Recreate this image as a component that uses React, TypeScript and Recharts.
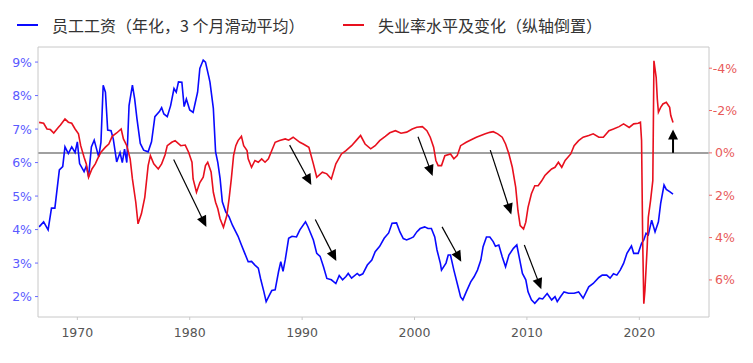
import { LineChart, Line, XAxis, YAxis, ReferenceLine } from 'recharts'

// [year, %]
const wage: [number, number][] = [
  [1966.6, 4.08], [1967.0, 4.23], [1967.4, 3.99], [1967.7, 4.64], [1968.0, 4.64], [1968.4, 5.78],
  [1968.7, 5.88], [1968.9, 6.47], [1969.2, 6.27], [1969.5, 6.47], [1969.8, 6.3], [1970.0, 6.62],
  [1970.2, 5.97], [1970.6, 5.73], [1970.8, 5.9], [1971.0, 5.58], [1971.25, 6.47], [1971.5, 6.67],
  [1971.9, 6.17], [1972.1, 6.6], [1972.3, 8.31], [1972.5, 8.1], [1972.7, 6.97], [1973.0, 6.95],
  [1973.2, 6.7], [1973.5, 6.02], [1973.8, 6.3], [1974.0, 6.0], [1974.2, 6.4], [1974.4, 6.0],
  [1974.6, 7.7], [1974.9, 8.31], [1975.1, 7.9], [1975.3, 7.32], [1975.6, 6.57], [1975.9, 6.37],
  [1976.3, 6.32], [1976.6, 6.62], [1976.9, 7.37], [1977.3, 7.52], [1977.5, 7.64], [1977.7, 7.45],
  [1978.0, 7.37], [1978.3, 7.7], [1978.6, 8.21], [1978.8, 8.1], [1979.0, 8.41], [1979.3, 8.4],
  [1979.5, 7.67], [1979.7, 7.9], [1980.0, 7.57], [1980.3, 7.5], [1980.5, 7.8], [1980.7, 8.1],
  [1980.9, 8.81], [1981.2, 9.06], [1981.4, 9.0], [1981.7, 8.56], [1981.8, 8.4], [1982.1, 7.62],
  [1982.3, 6.32], [1982.5, 6.0], [1982.7, 5.53], [1982.9, 4.83], [1983.2, 4.53], [1983.5, 4.38],
  [1983.8, 4.13], [1984.1, 3.93], [1984.3, 3.8], [1984.6, 3.54], [1984.9, 3.29], [1985.2, 3.04],
  [1985.5, 3.05], [1985.8, 2.94], [1986.1, 2.85], [1986.3, 2.54], [1986.6, 2.14], [1986.8, 1.85],
  [1987.1, 2.05], [1987.3, 2.18], [1987.6, 2.2], [1987.9, 2.74], [1988.1, 3.04], [1988.3, 2.75],
  [1988.5, 3.1], [1988.8, 3.74], [1989.1, 3.8], [1989.5, 3.78], [1989.8, 3.99], [1990.3, 4.23],
  [1990.5, 4.1], [1991.0, 3.69], [1991.3, 3.29], [1991.6, 3.2], [1991.9, 2.89], [1992.2, 2.54],
  [1992.6, 2.5], [1993.0, 2.39], [1993.3, 2.63], [1993.6, 2.5], [1993.9, 2.6], [1994.1, 2.69],
  [1994.4, 2.55], [1994.9, 2.69], [1995.1, 2.63], [1995.4, 2.68], [1995.8, 2.94], [1996.2, 3.09],
  [1996.5, 3.34], [1996.9, 3.5], [1997.3, 3.74], [1997.7, 3.9], [1998.0, 4.19], [1998.4, 4.2],
  [1998.7, 3.93], [1999.0, 3.73], [1999.3, 3.69], [1999.6, 3.73], [1999.9, 3.78], [2000.2, 3.93],
  [2000.5, 4.03], [2000.9, 4.08], [2001.2, 4.03], [2001.5, 4.03], [2001.8, 3.78], [2002.0, 3.39],
  [2002.3, 2.99], [2002.4, 2.79], [2002.8, 3.0], [2003.0, 3.24], [2003.2, 3.24], [2003.5, 2.79],
  [2003.8, 2.39], [2004.1, 1.99], [2004.3, 1.9], [2004.6, 2.14], [2005.0, 2.44], [2005.3, 2.59],
  [2005.6, 2.79], [2005.9, 3.09], [2006.1, 3.49], [2006.4, 3.78], [2006.7, 3.78], [2007.0, 3.64],
  [2007.2, 3.5], [2007.5, 3.54], [2007.8, 3.19], [2008.1, 2.89], [2008.4, 3.24], [2008.8, 3.44],
  [2009.1, 3.54], [2009.3, 3.2], [2009.6, 2.69], [2009.9, 2.5], [2010.1, 2.14], [2010.4, 1.9],
  [2010.7, 1.8], [2011.1, 1.95], [2011.4, 1.93], [2011.8, 2.09], [2012.2, 1.9], [2012.5, 2.0],
  [2012.7, 1.85], [2013.0, 2.0], [2013.3, 2.14], [2013.7, 2.1], [2014.2, 2.1], [2014.6, 2.14],
  [2015.0, 1.95], [2015.5, 2.29], [2015.9, 2.39], [2016.4, 2.57], [2016.7, 2.64], [2017.1, 2.64],
  [2017.4, 2.55], [2017.7, 2.68], [2018.0, 2.64], [2018.3, 2.79], [2018.6, 2.99], [2018.9, 3.29],
  [2019.3, 3.51], [2019.5, 3.29], [2019.9, 3.29], [2020.2, 3.59], [2020.4, 3.69], [2020.6, 3.89],
  [2020.8, 3.84], [2021.1, 4.28], [2021.4, 3.93], [2021.7, 4.23], [2021.9, 4.78], [2022.2, 5.33],
  [2022.4, 5.2], [2022.7, 5.13], [2023.0, 5.06],
]

const unemp: [number, number][] = [
  [1966.6, -1.44], [1967.0, -1.4], [1967.3, -1.13], [1967.6, -1.1], [1967.9, -0.94], [1968.3, -1.2],
  [1968.5, -1.32], [1968.9, -1.6], [1969.2, -1.45], [1969.5, -1.4], [1969.8, -1.13], [1970.1, -0.9],
  [1970.3, -0.34], [1970.6, 0.21], [1970.8, 0.52], [1971.0, 1.15], [1971.3, 0.76], [1971.6, 0.52],
  [1971.8, 0.28], [1972.1, -0.03], [1972.5, -0.27], [1972.8, -0.42], [1973.1, -0.78], [1973.5, -0.94],
  [1973.9, -1.13], [1974.1, -0.66], [1974.4, -0.34], [1974.7, 0.28], [1974.9, 1.23], [1975.2, 2.33],
  [1975.4, 3.35], [1975.7, 2.88], [1976.0, 2.1], [1976.3, 0.6], [1976.5, 0.13], [1976.8, 0.52],
  [1977.2, 0.76], [1977.5, 0.52], [1977.8, 0.1], [1978.0, -0.34], [1978.4, -0.5], [1978.7, -0.58],
  [1979.2, -0.34], [1979.6, -0.37], [1979.9, -0.03], [1980.2, 0.44], [1980.3, 1.23], [1980.6, 1.86],
  [1980.9, 1.4], [1981.2, 1.15], [1981.4, 0.6], [1981.6, 0.44], [1981.9, 0.9], [1982.1, 1.86],
  [1982.3, 2.33], [1982.5, 2.64], [1982.7, 3.11], [1983.0, 3.51], [1983.3, 2.96], [1983.5, 2.17],
  [1983.7, 1.23], [1983.9, 0.13], [1984.1, -0.34], [1984.3, -0.58], [1984.6, -0.78], [1984.8, -0.34],
  [1985.1, -0.11], [1985.2, 0.28], [1985.5, 0.68], [1985.8, 0.36], [1986.1, 0.44], [1986.4, 0.28],
  [1986.7, 0.44], [1987.0, 0.28], [1987.3, -0.11], [1987.6, -0.5], [1988.0, -0.58], [1988.5, -0.66],
  [1988.8, -0.6], [1989.2, -0.74], [1989.8, -0.5], [1990.1, -0.42], [1990.6, -0.26], [1991.0, 0.52],
  [1991.3, 1.15], [1991.8, 0.91], [1992.2, 0.99], [1992.6, 1.23], [1993.0, 0.52], [1993.5, 0.05],
  [1993.9, -0.11], [1994.4, -0.34], [1994.8, -0.58], [1995.2, -0.82], [1995.6, -0.42], [1996.1, -0.19],
  [1996.5, -0.34], [1996.9, -0.58], [1997.4, -0.78], [1997.8, -0.95], [1998.3, -1.05], [1998.8, -0.93],
  [1999.3, -0.98], [1999.8, -1.13], [2000.2, -1.21], [2000.7, -1.24], [2001.1, -1.05], [2001.4, -0.74],
  [2001.7, -0.27], [2001.9, 0.36], [2002.1, 0.6], [2002.4, 0.6], [2002.7, 0.13], [2003.2, 0.05],
  [2003.5, 0.28], [2003.8, 0.13], [2004.1, -0.34], [2004.6, -0.5], [2005.0, -0.61], [2005.5, -0.74],
  [2005.9, -0.82], [2006.3, -0.9], [2006.7, -0.97], [2007.0, -1.0], [2007.4, -0.9], [2007.8, -0.74],
  [2008.1, -0.42], [2008.4, 0.05], [2008.7, 0.68], [2009.0, 1.62], [2009.2, 2.72], [2009.4, 3.43],
  [2009.7, 3.59], [2009.9, 3.27], [2010.1, 2.57], [2010.4, 1.93], [2010.7, 1.55], [2011.0, 1.55],
  [2011.3, 1.33], [2011.6, 1.07], [2011.9, 0.91], [2012.2, 0.76], [2012.5, 0.68], [2012.8, 0.44],
  [2013.1, 0.68], [2013.4, 0.36], [2013.9, 0.05], [2014.2, -0.34], [2014.6, -0.58], [2015.0, -0.74],
  [2015.5, -0.82], [2015.9, -0.9], [2016.4, -0.74], [2016.8, -0.74], [2017.3, -1.05], [2017.7, -1.13],
  [2018.2, -1.24], [2018.6, -1.37], [2019.1, -1.2], [2019.5, -1.37], [2019.9, -1.4], [2020.1, -1.45],
  [2020.2, -0.58], [2020.3, 4.14], [2020.4, 7.12], [2020.5, 6.5], [2020.7, 4.45], [2020.8, 3.04],
  [2021.0, 2.25], [2021.2, 1.31], [2021.25, -1.37], [2021.3, -4.35], [2021.5, -3.57], [2021.6, -2.55],
  [2021.7, -1.92], [2021.9, -2.15], [2022.1, -2.31], [2022.4, -2.39], [2022.7, -2.15], [2022.8, -1.76],
  [2023.0, -1.44],
]

const yearTicks = [1970, 1980, 1990, 2000, 2010, 2020]
const wageTicks = [2, 3, 4, 5, 6, 7, 8, 9]
const unempTicks = [-4, -2, 0, 2, 4, 6]

// annotation arrows, [x1, y1, x2, y2] in year / left-axis units
const arrows: [number, number, number, number][] = [
  [1978.57, 6.09, 1981.48, 4.08],
  [1988.89, 6.52, 1990.82, 5.33],
  [1991.17, 4.3, 1993.04, 3.06],
  [2000.31, 6.77, 2001.61, 5.6],
  [2002.45, 4.08, 2004.16, 3.04],
  [2006.74, 6.37, 2008.61, 4.45],
  [2009.77, 3.54, 2011.28, 2.22],
]
const upArrow: [number, number, number, number] = [2023.0, 6.29, 2023.0, 6.99]

const wageData = wage.map(([t, v]) => ({ t, v }))
const unempData = unemp.map(([t, v]) => ({ t, v }))

const BLUE = '#0a0aff'
const RED = '#e8101e'
const tickFont = { fontSize: 12.5, fontFamily: "'DejaVu Sans', sans-serif" }

function makeArrow(width: number, hl: number, hw: number) {
  return (p: any) => {
    const { x1, y1, x2, y2 } = p
    const dx = x2 - x1, dy = y2 - y1
    const len = Math.hypot(dx, dy) || 1
    const ux = dx / len, uy = dy / len
    const bx = x2 - ux * hl, by = y2 - uy * hl
    return (
      <g>
        <line x1={x1} y1={y1} x2={bx + ux} y2={by + uy} stroke="#000" strokeWidth={width} />
        <polygon
          points={`${x2},${y2} ${bx - uy * hw},${by + ux * hw} ${bx + uy * hw},${by - ux * hw}`}
          fill="#000"
        />
      </g>
    )
  }
}

const LegendItem = ({ color, label, left }: { color: string; label: string; left: number }) => (
  <div style={{ position: 'absolute', left, top: 14, display: 'flex', alignItems: 'center', height: 22 }}>
    <div style={{ width: 21, height: 1.6, background: color, marginRight: 14 }} />
    <span style={{ fontSize: 16, color: '#333', fontFamily: "'Noto Sans CJK SC', sans-serif", whiteSpace: 'nowrap' }}>{label}</span>
  </div>
)

export default function App() {
  return (
    <div style={{ position: 'absolute', left: 0, top: 0, width: 753, height: 363, background: '#fff', overflow: 'hidden' }}>
      <LegendItem color={BLUE} label="员工工资（年化，3 个月滑动平均）" left={17} />
      <LegendItem color={RED} label="失业率水平及变化（纵轴倒置）" left={343} />
      <div style={{ position: 'absolute', left: 0, top: 0 }}>
        <LineChart width={753} height={363} margin={{ top: 47, right: 0, bottom: 16, left: 0 }}>
          <XAxis
            dataKey="t"
            type="number"
            domain={[1966.5, 2026.2]}
            ticks={yearTicks}
            allowDataOverflow
            height={30}
            tickSize={3}
            tickMargin={8}
            stroke="#c8c8c8"
            tick={{ ...tickFont, fill: '#555' }}
          />
          <YAxis
            yAxisId="left"
            domain={[1.39, 9.45]}
            ticks={wageTicks}
            allowDataOverflow
            width={38}
            tickSize={3}
            tickMargin={3}
            axisLine={{ stroke: '#c8c8c8' }}
            tickLine={{ stroke: '#6a6aff' }}
            tick={{ ...tickFont, fill: '#5a5aff' }}
            tickFormatter={(v: number) => `${v}%`}
          />
          <YAxis
            yAxisId="right"
            orientation="right"
            reversed
            domain={[-5, 7.75]}
            ticks={unempTicks}
            allowDataOverflow
            width={44}
            tickSize={3}
            tickMargin={13}
            axisLine={{ stroke: '#c8c8c8' }}
            tickLine={{ stroke: '#ec6a6a' }}
            tick={{ ...tickFont, fill: '#e85a5a', textAnchor: 'middle' }}
            tickFormatter={(v: number) => `${v}%`}
          />
          <ReferenceLine yAxisId="left" y={9.45} stroke="#c8c8c8" ifOverflow="visible" />
          <ReferenceLine yAxisId="right" y={0} stroke="#808080" strokeWidth={1.5} />
          <Line
            yAxisId="left"
            data={wageData}
            dataKey="v"
            stroke={BLUE}
            strokeWidth={1.6}
            dot={false}
            isAnimationActive={false}
          />
          <Line
            yAxisId="right"
            data={unempData}
            dataKey="v"
            stroke={RED}
            strokeWidth={1.6}
            dot={false}
            isAnimationActive={false}
          />
          {arrows.map((a, i) => (
            <ReferenceLine
              key={i}
              yAxisId="left"
              segment={[{ x: a[0], y: a[1] }, { x: a[2], y: a[3] }]}
              shape={makeArrow(1.2, 11, 5)}
              ifOverflow="visible"
            />
          ))}
          <ReferenceLine
            yAxisId="left"
            segment={[{ x: upArrow[0], y: upArrow[1] }, { x: upArrow[2], y: upArrow[3] }]}
            shape={makeArrow(2, 10, 5)}
            ifOverflow="visible"
          />
        </LineChart>
      </div>
    </div>
  )
}
